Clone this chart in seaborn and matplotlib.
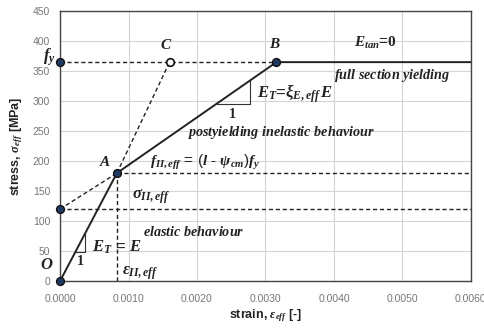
import matplotlib
matplotlib.use("Agg")
import matplotlib.pyplot as plt
import seaborn as sns
import pandas as pd

# ---- data ----
curve_strain = [0.0, 0.00083, 0.00316, 0.0060]
curve_stress = [0.0, 180.0, 365.0, 365.0]
point_names = ["O", "A", "B", "fy", "sigma"]
point_strain = [0.0, 0.00083, 0.00316, 0.0, 0.0]
point_stress = [0.0, 180.0, 365.0, 365.0, 120.0]
c_strain = [0.00160]
c_stress = [365.0]
fy = 365.0
f_II = 180.0
sigma_II = 120.0
eps_II = 0.00083
x_ticks = [0.0, 0.001, 0.002, 0.003, 0.004, 0.005, 0.006]
x_ticklabels = ["0.0000", "0.0010", "0.0020", "0.0030", "0.0040", "0.0050", "0.0060"]
y_ticks = [0, 50, 100, 150, 200, 250, 300, 350, 400, 450]

sns.set_theme(style="whitegrid")
plt.rcParams["font.family"] = ["Liberation Sans", "DejaVu Sans"]
plt.rcParams["mathtext.fontset"] = "custom"
plt.rcParams["mathtext.it"] = "Liberation Serif:italic:bold"
plt.rcParams["mathtext.rm"] = "Liberation Serif:bold"
plt.rcParams["mathtext.bf"] = "Liberation Serif:bold"

fig = plt.figure(figsize=(4.84, 3.28), dpi=100)
ax = fig.add_axes([0.124, 0.143, 0.849, 0.823])

curve = pd.DataFrame({"strain": curve_strain, "stress": curve_stress})
pts = pd.DataFrame({"strain": point_strain, "stress": point_stress, "name": point_names})
cpt = pd.DataFrame({"strain": c_strain, "stress": c_stress})

dash = dict(color="#222222", lw=1.0, ls=(0, (3, 2)), zorder=3)
# dashed construction lines
ax.plot([0.0, curve_strain[2]], [fy, fy], **dash)
ax.plot([0.0, 0.006], [sigma_II, sigma_II], **dash)
ax.plot([eps_II, 0.006], [f_II, f_II], **dash)
ax.plot([eps_II, eps_II], [0, f_II], **dash)
ax.plot([eps_II, c_strain[0]], [f_II, c_stress[0]], **dash)
ax.plot([0.0, eps_II], [sigma_II, f_II], **dash)

sns.lineplot(data=curve, x="strain", y="stress", sort=False, color="#222222",
             lw=1.4, ax=ax, zorder=4)

# slope triangles
tri = dict(color="#333333", lw=0.8, zorder=3)
ax.plot([0.000221, 0.000365, 0.000365], [48, 48, 79], **tri)
ax.plot([0.00229, 0.00278, 0.00278], [296, 296, 335], **tri)

sns.scatterplot(data=pts, x="strain", y="stress", s=32, color="#1f3b63",
                edgecolor="#111111", linewidth=1.0, ax=ax, zorder=6, clip_on=False)
sns.scatterplot(data=cpt, x="strain", y="stress", s=30, color="white",
                edgecolor="#111111", linewidth=1.2, ax=ax, zorder=6)

ax.set_xlim(0, 0.006)
ax.set_ylim(0, 450)
ax.set_xticks(x_ticks)
ax.set_xticklabels(x_ticklabels)
ax.set_yticks(y_ticks)
ax.tick_params(labelsize=7.5, colors="#777777", length=0)
ax.tick_params(axis="x", pad=9)
ax.tick_params(axis="y", pad=7)
ax.grid(True, color="#d4d4d4", lw=0.8)
for s in ax.spines.values():
    s.set_color("#444444")
    s.set_linewidth(1.0)

ax.set_xlabel(r"strain, $\varepsilon_{eff}$ [-]", fontsize=9, fontweight="bold",
              color="#222222", labelpad=3)
ax.set_ylabel(r"stress, $\sigma_{eff}$ [MPa]", fontsize=9, fontweight="bold",
              color="#222222", labelpad=6)

tk = dict(color="#222222", fontsize=10.2, zorder=7)
ax.text(-0.00015, 374, r"$f_y$", ha="center", va="center", fontsize=12, color="#222222")
ax.text(0.00155, 393, r"$C$", ha="center", va="center", fontsize=11, color="#222222")
ax.text(0.00314, 395, r"$B$", ha="center", va="center", fontsize=11, color="#222222")
ax.text(0.0046, 397, r"$E_{tan}$=$0$", ha="center", va="center", fontsize=11, color="#222222")
ax.text(0.0040, 343, r"$full\ section\ yielding$", ha="left", va="center", **tk)
ax.text(0.00288, 313, r"$E_T$=$\xi_{E,eff}\,E$", ha="left", va="center", fontsize=12, color="#222222")
ax.text(0.00251, 278, r"$1$", ha="center", va="center", **tk)
ax.text(0.00185, 248, r"$postyielding\ inelastic\ behaviour$", ha="left", va="center", **tk)
ax.text(0.00066, 198, r"$A$", ha="center", va="center", fontsize=11, color="#222222")
ax.text(0.00131, 197, r"$f_{II,eff}$ = ($l$ - $\psi_{cm}$)$f_y$", ha="left", va="center",
        fontsize=11, color="#222222")
ax.text(0.00105, 142, r"$\sigma_{II,eff}$", ha="left", va="center", fontsize=12, color="#222222")
ax.text(0.00121, 82, r"$elastic\ behaviour$", ha="left", va="center", **tk)
ax.text(0.00046, 57, r"$E_T$ = $E$", ha="left", va="center", fontsize=12, color="#222222")
ax.text(0.0003, 33, r"$1$", ha="center", va="center", **tk)
ax.text(-0.00019, 27, r"$O$", ha="center", va="center", fontsize=12, color="#222222")
ax.text(0.0009, 13, r"$\varepsilon_{II,eff}$", ha="left", va="center", fontsize=12, color="#222222")

fig.savefig("out.png", dpi=100)
